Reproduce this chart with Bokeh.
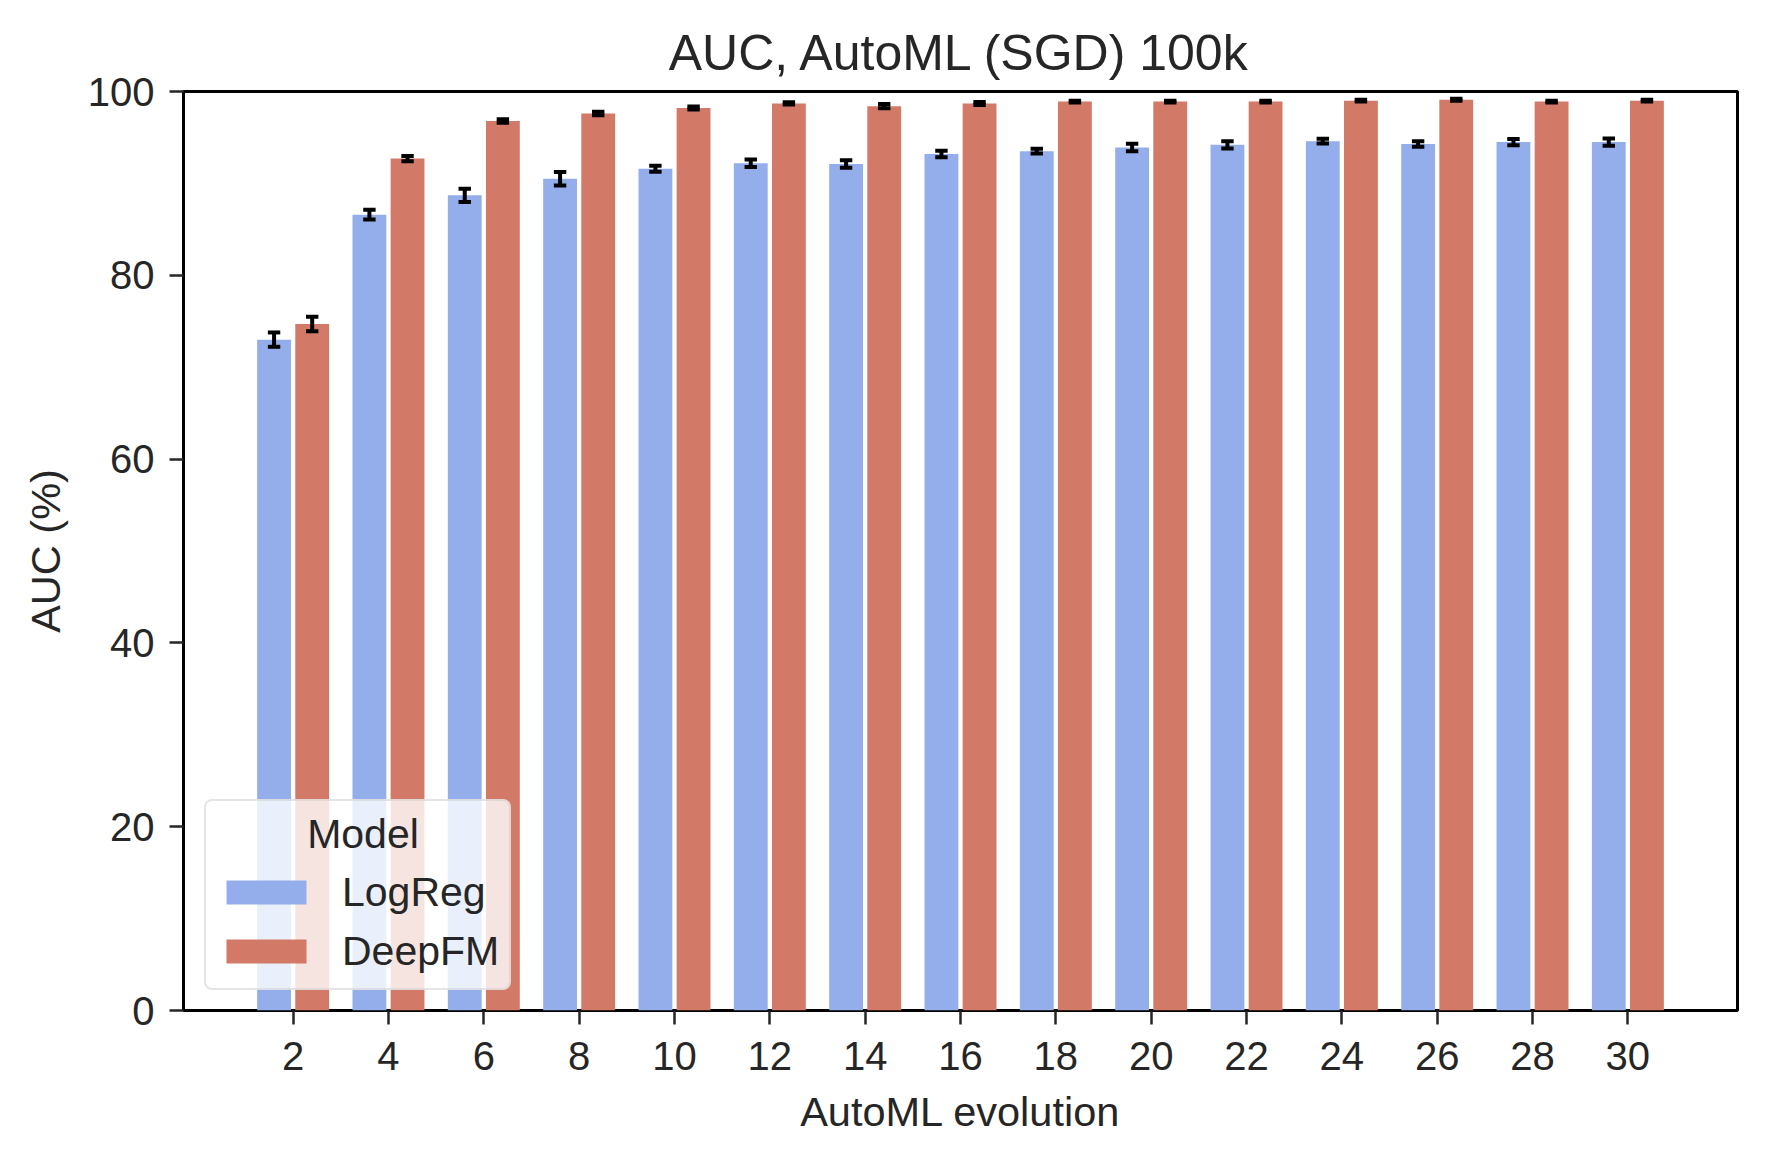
import numpy as np
from bokeh.plotting import figure
from bokeh.models import ColumnDataSource, FixedTicker, Legend, LegendItem
from bokeh.embed import file_html
from bokeh.resources import INLINE

# ---- data ----
evolution = [2, 4, 6, 8, 10, 12, 14, 16, 18, 20, 22, 24, 26, 28, 30]
tick_labels = [str(v) for v in evolution]
logreg_auc = [73.0, 86.6, 88.7, 90.5, 91.6, 92.2, 92.1, 93.2, 93.5, 93.9, 94.2, 94.6, 94.3, 94.5, 94.5]
logreg_err = [0.78, 0.52, 0.73, 0.73, 0.32, 0.41, 0.41, 0.35, 0.26, 0.41, 0.39, 0.26, 0.30, 0.34, 0.39]
deepfm_auc = [74.7, 92.7, 96.8, 97.6, 98.2, 98.7, 98.4, 98.7, 98.9, 98.9, 98.9, 99.0, 99.1, 98.9, 99.0]
deepfm_err = [0.79, 0.28, 0.19, 0.19, 0.17, 0.12, 0.23, 0.17, 0.10, 0.10, 0.10, 0.10, 0.10, 0.10, 0.10]
models = ["LogReg", "DeepFM"]
legend_title = "Model"
y_ticks = [0, 20, 40, 60, 80, 100]

FONT = "Liberation Sans"
TXT = "#262626"
BLUE = "#93aeea"
RED = "#d27a67"

ev = np.array(evolution, dtype=float)
off = 0.4
bar_w = 0.71
cap = 0.13

def make_src(vals, errs, shift):
    v = np.array(vals)
    e = np.array(errs)
    x = ev + shift
    return ColumnDataSource(dict(
        x=x, top=v, lo=v - e, hi=v + e, xl=x - cap, xr=x + cap))

src_lr = make_src(logreg_auc, logreg_err, -off)
src_df = make_src(deepfm_auc, deepfm_err, off)

p = figure(frame_width=1554, frame_height=919,
           x_range=(-0.3, 32.3), y_range=(0, 100),
           output_backend="svg", toolbar_location=None,
           min_border_left=183, min_border_top=91,
           min_border_right=12, min_border_bottom=140,
           background_fill_color="white", border_fill_color="white")

r_lr = p.vbar(x="x", top="top", width=bar_w, bottom=0, source=src_lr,
              fill_color=BLUE, line_color=None)
r_df = p.vbar(x="x", top="top", width=bar_w, bottom=0, source=src_df,
              fill_color=RED, line_color=None)

for s in (src_lr, src_df):
    p.segment(x0="x", x1="x", y0="lo", y1="hi", source=s,
              line_color="black", line_width=4)
    p.segment(x0="xl", x1="xr", y0="lo", y1="lo", source=s,
              line_color="black", line_width=4)
    p.segment(x0="xl", x1="xr", y0="hi", y1="hi", source=s,
              line_color="black", line_width=4)

# title
p.title.text = "AUC, AutoML (SGD) 100k"
p.title.align = "center"
p.title.text_font = FONT
p.title.text_font_size = "50px"
p.title.text_font_style = "normal"
p.title.text_color = TXT
p.title.standoff = 21

# grid / outline
p.xgrid.visible = False
p.ygrid.visible = False
p.outline_line_color = "black"
p.outline_line_width = 3
p.outline_line_alpha = 1.0

# axes
p.xaxis.ticker = FixedTicker(ticks=evolution)
p.xaxis.major_label_overrides = {v: lab for v, lab in zip(evolution, tick_labels)}
p.yaxis.ticker = FixedTicker(ticks=y_ticks)
p.xaxis.axis_label = "AutoML evolution"
p.yaxis.axis_label = "AUC (%)"
for ax in (p.xaxis, p.yaxis):
    ax.axis_line_color = None
    ax.major_tick_line_color = TXT
    ax.major_tick_line_width = 2.5
    ax.major_tick_in = 0
    ax.major_tick_out = 14
    ax.minor_tick_line_color = None
    ax.major_label_text_font = FONT
    ax.major_label_text_font_size = "40px"
    ax.major_label_text_color = TXT
    ax.axis_label_text_font = FONT
    ax.axis_label_text_font_size = "41.5px"
    ax.axis_label_text_font_style = "normal"
    ax.axis_label_text_color = TXT
p.xaxis.major_label_standoff = 17
p.xaxis.axis_label_standoff = 15
p.yaxis.major_label_standoff = 15
p.yaxis.axis_label_standoff = 16

# legend (title indented with no-break spaces so it sits centred)
legend = Legend(items=[LegendItem(label=models[0], renderers=[r_lr]),
                       LegendItem(label=models[1], renderers=[r_df])],
                location=(21, 20), title="\u00a0" * 8 + legend_title)
legend.title_text_font = FONT
legend.title_text_font_size = "41px"
legend.title_text_font_style = "normal"
legend.title_text_color = TXT
legend.label_text_font = FONT
legend.label_text_font_size = "41px"
legend.label_text_color = TXT
legend.glyph_width = 100
legend.glyph_height = 30
legend.label_height = 54
legend.label_standoff = 26
legend.spacing = 5
legend.padding = 10
legend.margin = 0
legend.title_standoff = 7
legend.background_fill_color = "white"
legend.background_fill_alpha = 0.8
legend.border_line_color = "#cccccc"
legend.border_line_width = 2
try:
    legend.border_radius = 8
except Exception:
    pass
p.add_layout(legend)

open("out.html", "w").write(file_html(p, INLINE))
